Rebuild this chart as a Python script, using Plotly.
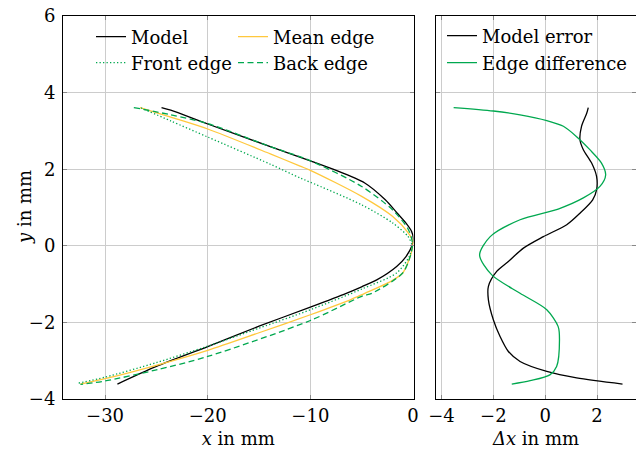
import plotly.graph_objects as go

# ---------------- data ----------------
# Left panel: edge shapes, x in mm vs y in mm (ordered top -> bottom)
model_x = [-24.5, -23.6, -20.0, -13.9, -10.0, -7.8, -4.7, -2.7, -1.53, -0.68, -0.13, 0.03,
           -0.1, -0.68, -1.59, -3.53, -5.0, -6.5, -10.0, -15.0, -20.0, -25.0, -28.8]
model_y = [3.61, 3.54, 3.18, 2.59, 2.22, 2.00, 1.64, 1.20, 0.85, 0.59, 0.37, 0.20,
           0.0, -0.28, -0.54, -0.89, -1.07, -1.24, -1.60, -2.10, -2.63, -3.15, -3.61]

mean_x = [-26.6, -23.6, -20.0, -13.9, -11.0, -10.0, -5.0, -2.0, -0.5, 0.0,
          -0.1, -0.3, -1.0, -2.3, -4.7, -6.1, -10.0, -15.0, -20.0, -25.0, -30.0, -32.4]
mean_y = [3.61, 3.36, 3.05, 2.40, 2.08, 1.97, 1.29, 0.77, 0.35, 0.10,
          -0.10, -0.30, -0.71, -0.95, -1.24, -1.41, -1.80, -2.27, -2.73, -3.12, -3.47, -3.61]

front_x = [-26.5, -23.6, -20.0, -13.9, -11.0, -10.0, -5.0, -2.0, -0.5, -0.13,
           -0.1, -0.4, -1.6, -5.0, -10.0, -15.0, -20.0, -25.0, -30.0, -32.7]
front_y = [3.60, 3.26, 2.84, 2.13, 1.77, 1.66, 1.07, 0.60, 0.25, 0.05,
           -0.05, -0.30, -0.71, -1.13, -1.67, -2.15, -2.62, -3.05, -3.43, -3.59]

back_x = [-27.2, -23.6, -20.0, -14.0, -10.0, -5.0, -2.0, -0.5, -0.1,
          -0.05, -0.3, -1.0, -4.0, -5.0, -10.0, -20.0, -25.0, -30.0, -32.4]
back_y = [3.61, 3.42, 3.19, 2.60, 2.22, 1.55, 0.94, 0.45, 0.15,
          0.0, -0.30, -0.71, -1.24, -1.32, -1.95, -2.89, -3.24, -3.53, -3.62]

# Right panel: differences, delta x in mm vs y in mm
err_dx = [1.66, 1.60, 1.40, 1.34, 1.47, 1.79, 1.98, 1.98, 1.83, 1.34, 0.83, -0.07,
          -0.84, -1.42, -1.87, -2.19, -2.19, -2.00, -1.74, -1.42, -0.97, 0.06, 1.21, 2.98]
err_y = [3.61, 3.46, 3.12, 2.77, 2.51, 2.16, 1.81, 1.46, 1.20, 0.85, 0.55, 0.24,
         -0.06, -0.41, -0.67, -1.06, -1.41, -1.93, -2.37, -2.76, -3.02, -3.28, -3.45, -3.61]

diff_dx = [-3.53, -2.00, -0.97, 0.06, 0.70, 1.21, 1.72, 2.17, 2.33, 2.11, 1.47, 0.50,
           -0.97, -2.12, -2.53, -2.06, -0.97, 0.06, 0.50, 0.55, 0.44, 0.18, -0.58, -1.29]
diff_y = [3.61, 3.52, 3.42, 3.27, 3.12, 2.85, 2.51, 2.16, 1.85, 1.55, 1.25, 0.96,
          0.68, 0.24, -0.24, -0.76, -1.24, -1.67, -2.11, -2.45, -3.15, -3.37, -3.52, -3.61]

x_ticks = [-30, -20, -10, 0]
dx_ticks = [-4, -2, 0, 2]
y_ticks = [-4, -2, 0, 2, 4, 6]

# ---------------- styling ----------------
FONT = "DejaVu Serif"
FS = 18
BLACK = "#000000"
YELLOW = "#FFC83D"
GREEN = "#00A84F"
GRID = "#cccccc"
LW = 1.3

fig = go.Figure()

fig.add_trace(go.Scatter(x=model_x, y=model_y, mode="lines", name="Model",
                         line=dict(color=BLACK, width=LW, shape="spline", smoothing=0.8),
                         xaxis="x", yaxis="y", legend="legend"))
fig.add_trace(go.Scatter(x=mean_x, y=mean_y, mode="lines", name="Mean edge",
                         line=dict(color=YELLOW, width=LW, shape="spline", smoothing=0.8),
                         xaxis="x", yaxis="y", legend="legend2"))
fig.add_trace(go.Scatter(x=front_x, y=front_y, mode="lines", name="Front edge",
                         line=dict(color=GREEN, width=LW, shape="spline", smoothing=0.8,
                                   dash="1.3px,2.2px"),
                         xaxis="x", yaxis="y", legend="legend3"))
fig.add_trace(go.Scatter(x=back_x, y=back_y, mode="lines", name="Back edge",
                         line=dict(color=GREEN, width=LW, shape="spline", smoothing=0.8,
                                   dash="6px,3.5px"),
                         xaxis="x", yaxis="y", legend="legend4"))
fig.add_trace(go.Scatter(x=err_dx, y=err_y, mode="lines", name="Model error",
                         line=dict(color=BLACK, width=LW, shape="spline", smoothing=0.8),
                         xaxis="x2", yaxis="y2", legend="legend5"))
fig.add_trace(go.Scatter(x=diff_dx, y=diff_y, mode="lines", name="Edge difference",
                         line=dict(color=GREEN, width=LW, shape="spline", smoothing=0.8),
                         xaxis="x2", yaxis="y2", legend="legend6"))

axis_common = dict(
    showline=True, linecolor="black", linewidth=1, mirror="ticks",
    ticks="inside", ticklen=4, tickcolor="#888888", tickwidth=1,
    showgrid=True, gridcolor=GRID, gridwidth=1, zeroline=False,
    automargin=False,
    tickfont=dict(family=FONT, size=FS, color="black"),
)

L, T, W, H = 63, 16, 636, 450
PW, PH = W - L, 399 - T


def px_x(p):
    return (p - L) / PW


def px_y(p):
    return (399 - p) / PH


leg_common = dict(bgcolor="rgba(0,0,0,0)", borderwidth=0, itemwidth=30,
                  font=dict(family=FONT, size=FS, color="black"),
                  xanchor="left", yanchor="middle", orientation="v")

fig.update_layout(
    width=W, height=H,
    showlegend=True,
    margin=dict(l=L, r=0, t=T, b=H - 399),
    paper_bgcolor="white", plot_bgcolor="white",
    font=dict(family=FONT, size=FS, color="black"),
    xaxis=dict(domain=[0, px_x(413.5)], range=[-34.1, 0.05], tickvals=x_ticks,
               anchor="y",
               title=dict(text="<i>x</i> in mm", standoff=7,
                          font=dict(family=FONT, size=FS)),
               **axis_common),
    yaxis=dict(domain=[0, 1], range=[-4, 6], tickvals=y_ticks, anchor="x",
               ticklabelstandoff=3, **axis_common),
    xaxis2=dict(domain=[px_x(436), 1], range=[-4.21, 3.5], tickvals=dx_ticks,
                anchor="y2",
                title=dict(text="<i>Δx</i> in mm", standoff=7,
                           font=dict(family=FONT, size=FS)),
                **axis_common),
    yaxis2=dict(domain=[0, 1], range=[-4, 6], tickvals=y_ticks, anchor="x2",
                showticklabels=False, **axis_common),
    legend=dict(x=px_x(91), y=px_y(37), **leg_common),
    legend2=dict(x=px_x(233), y=px_y(37), **leg_common),
    legend3=dict(x=px_x(91), y=px_y(63), **leg_common),
    legend4=dict(x=px_x(233), y=px_y(63), **leg_common),
    legend5=dict(x=px_x(442), y=px_y(36), **leg_common),
    legend6=dict(x=px_x(442), y=px_y(63), **leg_common),
    annotations=[dict(text="<i>y</i> in mm", textangle=-90, showarrow=False,
                      xref="paper", yref="paper", x=px_x(24), y=px_y(207),
                      xanchor="center", yanchor="middle",
                      font=dict(family=FONT, size=FS, color="black"))],
)

fig.write_html("out.html", config={"displayModeBar": False},
               post_script="document.body.style.margin='0px';")
